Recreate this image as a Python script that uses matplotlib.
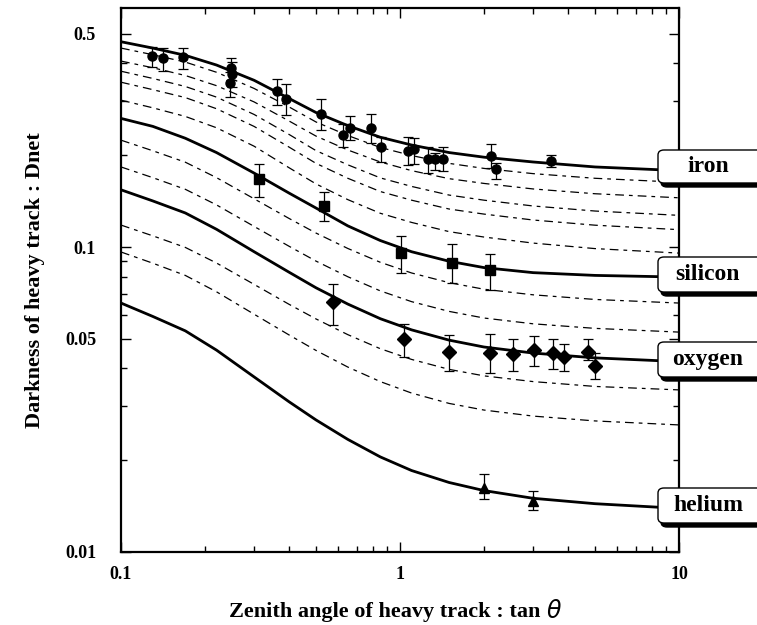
import numpy as np
import matplotlib
matplotlib.use("Agg")
import matplotlib.pyplot as plt
from matplotlib.patches import FancyBboxPatch
from matplotlib.ticker import FixedLocator, FixedFormatter, NullFormatter

plt.rcParams['font.family'] = ['Liberation Serif', 'DejaVu Serif']
plt.rcParams['font.weight'] = 'bold'

# --- model curves at fixed tan(theta) positions ---
x_grid = [0.1, 0.13, 0.17, 0.22, 0.3, 0.4, 0.5, 0.65, 0.85, 1.1, 1.5, 2, 3, 5, 10]

iron    = [0.471, 0.449, 0.425, 0.395, 0.352, 0.307, 0.276, 0.250, 0.229, 0.216, 0.204, 0.197, 0.190, 0.183, 0.178]
silicon = [0.264, 0.2486, 0.2273, 0.204, 0.1747, 0.1503, 0.1342, 0.1173, 0.105, 0.0965, 0.0898, 0.0856, 0.0824, 0.0807, 0.0797]
oxygen  = [0.154, 0.1416, 0.1293, 0.1143, 0.0965, 0.0827, 0.0735, 0.065, 0.0582, 0.0535, 0.0495, 0.0470, 0.0449, 0.0433, 0.0421]
helium  = [0.0655, 0.0592, 0.0531, 0.0459, 0.0375, 0.0311, 0.0271, 0.0234, 0.0205, 0.0185, 0.0169, 0.0159, 0.0150, 0.0144, 0.0139]

# dashed curves for the intermediate charges
z24 = [0.449, 0.427, 0.404, 0.374, 0.331, 0.288, 0.257, 0.232, 0.212, 0.1995, 0.188, 0.181, 0.174, 0.168, 0.163]
z22 = [0.407, 0.387, 0.365, 0.338, 0.299, 0.259, 0.231, 0.208, 0.190, 0.178, 0.1675, 0.1616, 0.155, 0.1495, 0.145]
z20 = [0.377, 0.357, 0.336, 0.310, 0.272, 0.234, 0.207, 0.186, 0.1685, 0.158, 0.148, 0.1424, 0.1363, 0.1312, 0.127]
z18 = [0.347, 0.328, 0.309, 0.284, 0.2485, 0.2127, 0.188, 0.168, 0.152, 0.1424, 0.1332, 0.1282, 0.1226, 0.1179, 0.114]
z16 = [0.303, 0.286, 0.268, 0.246, 0.214, 0.182, 0.161, 0.143, 0.129, 0.1204, 0.1123, 0.1078, 0.103, 0.0988, 0.0955]
z12 = [0.224, 0.2068, 0.1897, 0.1688, 0.1439, 0.1241, 0.1111, 0.0989, 0.0891, 0.0822, 0.0764, 0.0727, 0.0697, 0.0673, 0.0655]
z10 = [0.183, 0.1688, 0.1546, 0.1374, 0.1168, 0.1006, 0.0899, 0.0799, 0.0718, 0.0662, 0.0615, 0.0585, 0.0560, 0.0541, 0.0526]
z6  = [0.118, 0.1088, 0.0997, 0.0886, 0.0754, 0.0649, 0.0581, 0.0516, 0.0464, 0.0428, 0.0397, 0.0378, 0.0362, 0.0349, 0.034]
z4  = [0.0963, 0.0885, 0.0807, 0.0713, 0.0602, 0.0515, 0.0458, 0.0404, 0.0362, 0.0332, 0.0307, 0.0292, 0.0279, 0.0269, 0.0261]

# --- measured points (value, low end and high end of error bar) ---
fe_x  = [0.129, 0.142, 0.167, 0.248, 0.249, 0.246, 0.361, 0.389, 0.521, 0.623, 0.662,
         0.787, 0.853, 1.07, 1.12, 1.26, 1.33, 1.43, 2.12, 2.20, 3.47]
fe_y  = [0.423, 0.416, 0.419, 0.385, 0.369, 0.346, 0.325, 0.306, 0.272, 0.233, 0.246,
         0.246, 0.212, 0.207, 0.209, 0.194, 0.195, 0.194, 0.199, 0.180, 0.191]
fe_lo = [0.390, 0.378, 0.383, 0.353, 0.335, 0.311, 0.292, 0.270, 0.242, 0.213, 0.224,
         0.219, 0.190, 0.186, 0.187, 0.175, 0.179, 0.177, 0.181, 0.167, 0.183]
fe_hi = [0.454, 0.450, 0.449, 0.418, 0.404, 0.375, 0.356, 0.342, 0.305, 0.253, 0.268,
         0.272, 0.230, 0.229, 0.227, 0.212, 0.203, 0.213, 0.217, 0.188, 0.201]

si_x  = [0.313, 0.536, 1.01, 1.53, 2.10]
si_y  = [0.167, 0.136, 0.0958, 0.0888, 0.0841]
si_lo = [0.146, 0.122, 0.0824, 0.0760, 0.0723]
si_hi = [0.187, 0.151, 0.1087, 0.1021, 0.0948]

o_x  = [0.575, 1.03, 1.50, 2.11, 2.55, 3.03, 3.54, 3.87, 4.73, 5.00]
o_y  = [0.066, 0.0498, 0.0454, 0.0450, 0.0445, 0.0459, 0.0448, 0.0437, 0.0454, 0.0407]
o_lo = [0.0555, 0.0435, 0.0393, 0.0387, 0.0393, 0.0407, 0.0398, 0.0393, 0.0426, 0.0369]
o_hi = [0.0756, 0.0559, 0.0514, 0.0517, 0.0498, 0.0512, 0.0499, 0.0480, 0.0498, 0.0448]

he_x  = [2.00, 3.00]
he_y  = [0.0162, 0.0147]
he_lo = [0.0149, 0.0137]
he_hi = [0.0180, 0.0158]

# --- figure ---
W, H = 757, 625
fig = plt.figure(figsize=(W / 100, H / 100), dpi=100)
ax = fig.add_axes([121 / W, 73 / H, 558 / W, 544 / H])

dash = (0, (7, 4, 3, 4))
for z in [z24, z22, z20, z18, z16, z12, z10, z6, z4]:
    ax.plot(x_grid, z, color='k', lw=0.9, linestyle=dash)
for c in [iron, silicon, oxygen, helium]:
    ax.plot(x_grid, c, color='k', lw=2.0, solid_joinstyle='round')

def points(x, y, lo, hi, marker, ms):
    y = np.array(y)
    err = [y - np.array(lo), np.array(hi) - y]
    ax.errorbar(x, y, yerr=err, fmt=marker, color='k', ms=ms, capsize=3.5,
                elinewidth=0.9, capthick=0.9, zorder=5)

points(fe_x, fe_y, fe_lo, fe_hi, 'o', 6.5)
points(si_x, si_y, si_lo, si_hi, 's', 6.5)
points(o_x, o_y, o_lo, o_hi, 'D', 7)
points(he_x, he_y, he_lo, he_hi, '^', 7)

ax.set_xscale('log')
ax.set_yscale('log')
ax.set_xlim(0.1, 10)
ax.set_ylim(0.01, 0.6076)

ax.xaxis.set_major_locator(FixedLocator([0.1, 1, 10]))
ax.xaxis.set_major_formatter(FixedFormatter(['0.1', '1', '10']))
ax.xaxis.set_minor_locator(FixedLocator([a * b for b in (0.1, 1) for a in range(2, 10)]))
ax.yaxis.set_major_locator(FixedLocator([0.01, 0.05, 0.1, 0.5]))
ax.yaxis.set_major_formatter(FixedFormatter(['0.01', '0.05', '0.1', '0.5']))
ax.yaxis.set_minor_locator(FixedLocator([a * b for b in (0.01, 0.1) for a in range(2, 10) if a * b < 0.6]))
ax.xaxis.set_minor_formatter(NullFormatter())
ax.yaxis.set_minor_formatter(NullFormatter())
ax.tick_params(which='both', direction='in', top=True, right=True, width=1)
ax.tick_params(which='major', length=7, labelsize=13, pad=10)
ax.tick_params(which='minor', length=4)
ax.tick_params(axis='y', which='major', pad=18)
for s in ax.spines.values():
    s.set_linewidth(1.6)

ax.set_ylabel('Darkness of heavy track : Dnet', fontsize=16, fontweight='bold', labelpad=14)

# x label: serif bold text followed by a plain italic theta
xl = fig.text(229 / W, (H - 612) / H, 'Zenith angle of heavy track : tan', fontsize=16,
              fontweight='bold', ha='left', va='center')
fig.canvas.draw()
bb = xl.get_window_extent()
fig.text((bb.x1 + 6) / W, (H - 611) / H, '\u03b8', fontsize=17, fontweight='normal',
         fontstyle='italic', family='DejaVu Sans', ha='left', va='center')

# --- element name boxes on the right ---
names = ['iron', 'silicon', 'oxygen', 'helium']
box_px = [(150, 183), (257, 292), (342, 377), (488, 523)]
for name, (top, bot) in zip(names, box_px):
    x0, w = 658 / W, 120 / W
    y0, h = (H - bot) / H, (bot - top) / H
    shadow = FancyBboxPatch((x0 + 3 / W, y0 - 4 / H), w, h, boxstyle='round,pad=0,rounding_size=0.008',
                            transform=fig.transFigure, facecolor='k', edgecolor='k', zorder=10)
    box = FancyBboxPatch((x0, y0), w, h, boxstyle='round,pad=0,rounding_size=0.008',
                         transform=fig.transFigure, facecolor='white', edgecolor='k', lw=1.0, zorder=11)
    fig.patches.extend([shadow, box])
    fig.text(708 / W, (H - (top + bot) / 2) / H, name, ha='center', va='center',
             fontsize=17, fontweight='bold', zorder=12)

fig.savefig('out.png', dpi=100)
